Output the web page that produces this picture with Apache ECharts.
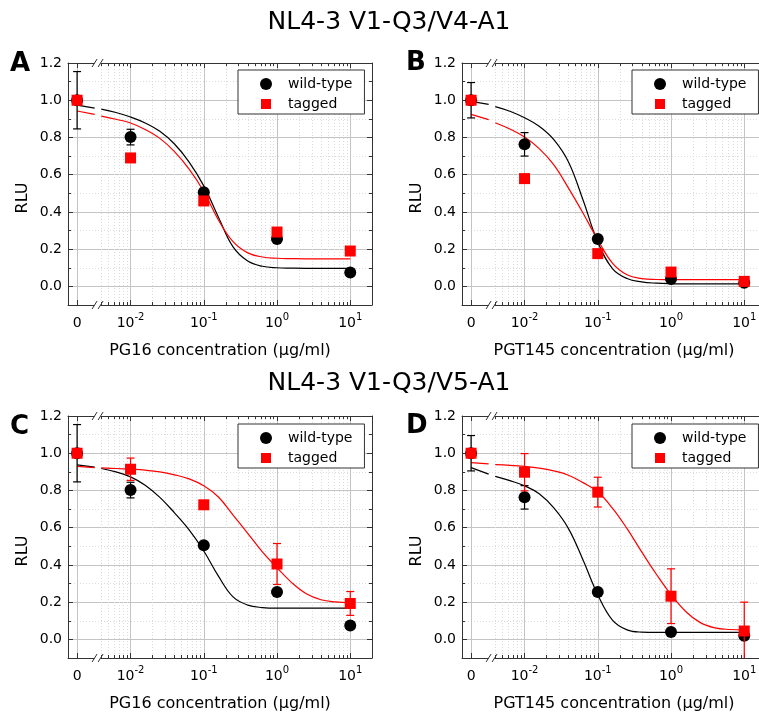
<!DOCTYPE html>
<html>
<head>
<meta charset="utf-8">
<script src="https://cdn.jsdelivr.net/npm/echarts@6/dist/echarts.min.js"></script>
<style>
  html, body { margin: 0; padding: 0; background: #ffffff; }
  #chart { width: 759px; height: 717px; }
</style>
</head>
<body>
<div id="chart"></div>
<script>
// ---- measured values -------------------------------------------------------
// antibody concentrations (µg/ml); 0 is the no-antibody control
const concentrations = [0, 0.01, 0.1, 1, 10];

// wild-type virus (same measurements shown in both constructs' panels)
const wtPG16      = [1.000, 0.802, 0.506, 0.255, 0.075];
const wtPG16Err   = [0.154, 0.042, 0, 0, 0];
const wtPGT145    = [1.000, 0.763, 0.254, 0.040, 0.020];
const wtPGT145Err = [0.095, 0.063, 0, 0, 0];

// tagged viruses
const tagV4PG16      = [1.000, 0.690, 0.459, 0.292, 0.190];
const tagV4PG16Err   = [0, 0, 0, 0, 0];
const tagV4PGT145    = [1.000, 0.579, 0.176, 0.077, 0.027];
const tagV4PGT145Err = [0, 0, 0, 0, 0];
const tagV5PG16      = [1.000, 0.914, 0.723, 0.405, 0.193];
const tagV5PG16Err   = [0, 0.060, 0, 0.110, 0.064];
const tagV5PGT145    = [1.000, 0.898, 0.791, 0.232, 0.045];
const tagV5PGT145Err = [0, 0.100, 0.080, 0.147, 0.155];

// dose-response fits
// *_0: fit value at zero antibody; *_brk: [log10(conc), RLU] where the fit meets the axis break
// main arrays: [log10(conc), RLU] along the log part of the axis
const fitWtV4PG16_0 = 0.974, fitWtV4PG16_brk = [-2.49, 0.958];
const fitWtV4PG16 = [[-2.4, 0.952], [-2.2, 0.934], [-2.0, 0.910], [-1.8, 0.878], [-1.6, 0.833],
  [-1.4, 0.765], [-1.2, 0.668], [-1.0, 0.540], [-0.8, 0.372], [-0.6, 0.212], [-0.4, 0.136],
  [-0.2, 0.108], [0.0, 0.100], [0.2, 0.098], [0.4, 0.097], [0.6, 0.097], [0.8, 0.097], [1.0, 0.097]];
const fitTagV4PG16_0 = 0.942, fitTagV4PG16_brk = [-2.49, 0.924];
const fitTagV4PG16 = [[-2.4, 0.915], [-2.2, 0.898], [-2.0, 0.878], [-1.8, 0.843], [-1.6, 0.795],
  [-1.4, 0.724], [-1.2, 0.630], [-1.0, 0.510], [-0.8, 0.357], [-0.6, 0.240], [-0.4, 0.180],
  [-0.2, 0.158], [0.0, 0.151], [0.2, 0.149], [0.4, 0.148], [0.6, 0.148], [0.8, 0.148], [1.0, 0.148]];

const fitWtV4PGT145_0 = 0.994, fitWtV4PGT145_brk = [-2.49, 0.978];
const fitWtV4PGT145 = [[-2.4, 0.966], [-2.2, 0.941], [-2.0, 0.906], [-1.8, 0.860], [-1.6, 0.788],
  [-1.4, 0.668], [-1.2, 0.463], [-1.0, 0.238], [-0.8, 0.096], [-0.6, 0.042], [-0.4, 0.024],
  [-0.2, 0.017], [0.0, 0.014], [0.2, 0.013], [0.4, 0.013], [0.6, 0.013], [0.8, 0.013], [1.0, 0.013]];
const fitTagV4PGT145_0 = 0.924, fitTagV4PGT145_brk = [-2.49, 0.896];
const fitTagV4PGT145 = [[-2.4, 0.879], [-2.2, 0.845], [-2.0, 0.802], [-1.8, 0.740], [-1.6, 0.653],
  [-1.4, 0.528], [-1.2, 0.393], [-1.0, 0.250], [-0.8, 0.125], [-0.6, 0.062], [-0.4, 0.042],
  [-0.2, 0.037], [0.0, 0.036], [0.2, 0.036], [0.4, 0.036], [0.6, 0.036], [0.8, 0.036], [1.0, 0.036]];

const fitWtV5PG16_0 = 0.9375, fitWtV5PG16_brk = [-2.49, 0.925];
const fitWtV5PG16 = [[-2.4, 0.918], [-2.2, 0.900], [-2.0, 0.873], [-1.8, 0.828], [-1.6, 0.763],
  [-1.4, 0.680], [-1.2, 0.588], [-1.0, 0.475], [-0.8, 0.340], [-0.6, 0.228], [-0.4, 0.184],
  [-0.2, 0.171], [0.0, 0.168], [0.2, 0.168], [0.4, 0.168], [0.6, 0.168], [0.8, 0.168], [1.0, 0.168]];
const fitTagV5PG16_0 = 0.929, fitTagV5PG16_brk = [-2.49, 0.923];
const fitTagV5PG16 = [[-2.4, 0.921], [-2.2, 0.918], [-2.0, 0.914], [-1.8, 0.909], [-1.6, 0.900],
  [-1.4, 0.884], [-1.2, 0.862], [-1.0, 0.825], [-0.8, 0.765], [-0.6, 0.668], [-0.4, 0.570],
  [-0.2, 0.470], [0.0, 0.385], [0.2, 0.305], [0.4, 0.245], [0.6, 0.213], [0.8, 0.201], [1.0, 0.196]];

const fitWtV5PGT145_0 = 0.923, fitWtV5PGT145_brk = [-2.49, 0.888];
const fitWtV5PGT145 = [[-2.4, 0.876], [-2.2, 0.853], [-2.0, 0.825], [-1.8, 0.782], [-1.6, 0.706],
  [-1.4, 0.595], [-1.2, 0.425], [-1.0, 0.240], [-0.8, 0.104], [-0.6, 0.051], [-0.4, 0.039],
  [-0.2, 0.0375], [0.0, 0.0375], [0.2, 0.0375], [0.4, 0.0375], [0.6, 0.0375], [0.8, 0.0375], [1.0, 0.0375]];
const fitTagV5PGT145_0 = 0.950, fitTagV5PGT145_brk = [-2.49, 0.943];
const fitTagV5PGT145 = [[-2.4, 0.939], [-2.2, 0.935], [-2.0, 0.929], [-1.8, 0.920], [-1.6, 0.905],
  [-1.4, 0.882], [-1.2, 0.842], [-1.0, 0.793], [-0.8, 0.705], [-0.6, 0.595], [-0.4, 0.470],
  [-0.2, 0.350], [0.0, 0.240], [0.2, 0.150], [0.4, 0.090], [0.6, 0.062], [0.8, 0.053], [1.0, 0.050]];

// axis ticks
const yMajorTicks = [0, 0.2, 0.4, 0.6, 0.8, 1.0, 1.2];
const yMinorTicks = [0.1, 0.3, 0.5, 0.7, 0.9, 1.1];
const xDecades = [-2, -1, 0, 1];

// ---- axis layout --------------------------------------------------------------
// The x axis is log10(concentration); the zero control sits in its own slot left of the break.
const X_MIN = -2.854, X_MAX = 1.297;
const ZERO_SLOT = -2.73;
const BREAK_AT = -2.45;
const Y_MIN = -0.1, Y_MAX = 1.2;
const FONT = '"DejaVu Sans", sans-serif';
const AXIS_COLOR = '#333333';
const BLACK = '#000000', RED = '#ff0000';

const xPos = c => (c === 0 ? ZERO_SLOT : Math.log10(c));
const xMajor = [ZERO_SLOT].concat(xDecades);
const xMinor = [];
for (let d = -3; d <= 1; d++) {
  for (let k = 2; k <= 9; k++) {
    const v = d + Math.log10(k);
    if (v > BREAK_AT && v < X_MAX) xMinor.push(v);
  }
}

const panels = [
  { letter: 'A', left: 68, top: 63, letterX: 10, letterY: 64,
    xTitle: 'PG16 concentration (μg/ml)', legendLeft: 238, legendTop: 70,
    wt: wtPG16, wtErr: wtPG16Err, tag: tagV4PG16, tagErr: tagV4PG16Err,
    wtFit: [fitWtV4PG16_0, fitWtV4PG16_brk, fitWtV4PG16],
    tagFit: [fitTagV4PG16_0, fitTagV4PG16_brk, fitTagV4PG16] },
  { letter: 'B', left: 462, top: 63, letterX: 406, letterY: 63,
    xTitle: 'PGT145 concentration (μg/ml)', legendLeft: 632, legendTop: 70,
    wt: wtPGT145, wtErr: wtPGT145Err, tag: tagV4PGT145, tagErr: tagV4PGT145Err,
    wtFit: [fitWtV4PGT145_0, fitWtV4PGT145_brk, fitWtV4PGT145],
    tagFit: [fitTagV4PGT145_0, fitTagV4PGT145_brk, fitTagV4PGT145] },
  { letter: 'C', left: 68, top: 416, letterX: 10, letterY: 427,
    xTitle: 'PG16 concentration (μg/ml)', legendLeft: 238, legendTop: 424,
    wt: wtPG16, wtErr: wtPG16Err, tag: tagV5PG16, tagErr: tagV5PG16Err,
    wtFit: [fitWtV5PG16_0, fitWtV5PG16_brk, fitWtV5PG16],
    tagFit: [fitTagV5PG16_0, fitTagV5PG16_brk, fitTagV5PG16] },
  { letter: 'D', left: 462, top: 416, letterX: 406, letterY: 426,
    xTitle: 'PGT145 concentration (μg/ml)', legendLeft: 632, legendTop: 424,
    wt: wtPGT145, wtErr: wtPGT145Err, tag: tagV5PGT145, tagErr: tagV5PGT145Err,
    wtFit: [fitWtV5PGT145_0, fitWtV5PGT145_brk, fitWtV5PGT145],
    tagFit: [fitTagV5PGT145_0, fitTagV5PGT145_brk, fitTagV5PGT145] }
];
const PLOT_W = 304, PLOT_H = 242;

// ---- helpers --------------------------------------------------------------------
function xLabel(v) {
  if (Math.abs(v - ZERO_SLOT) < 1e-6) return '{b|0}';
  return '{b|10}{sup|' + Math.round(v) + '}';
}

function errRenderer(color) {
  return function (params, api) {
    const x = api.value(0), y = api.value(1), e = api.value(2);
    const p1 = api.coord([x, y + e]);
    const p2 = api.coord([x, y - e]);
    const style = { stroke: color, lineWidth: 1.2 };
    return {
      type: 'group',
      children: [
        { type: 'line', shape: { x1: p1[0], y1: p1[1], x2: p2[0], y2: p2[1] }, style },
        { type: 'line', shape: { x1: p1[0] - 4, y1: p1[1], x2: p1[0] + 4, y2: p1[1] }, style },
        { type: 'line', shape: { x1: p2[0] - 4, y1: p2[1], x2: p2[0] + 4, y2: p2[1] }, style }
      ]
    };
  };
}

// "//" marks where the linear zero slot meets the log scale
function breakRenderer(params, api) {
  const x = api.value(0);
  const ends = [api.coord([x, Y_MIN]), api.coord([x, Y_MAX])];
  const children = [];
  ends.forEach(p => {
    children.push({ type: 'rect', shape: { x: p[0] - 3, y: p[1] - 1.5, width: 6, height: 3 },
      style: { fill: '#ffffff' } });
    [-3, 3].forEach(dx => children.push({
      type: 'line',
      shape: { x1: p[0] + dx - 2.5, y1: p[1] + 4, x2: p[0] + dx + 2.5, y2: p[1] - 4 },
      style: { stroke: AXIS_COLOR, lineWidth: 1 }
    }));
  });
  return { type: 'group', children };
}

const grids = [], xAxes = [], yAxes = [], series = [], legends = [], graphics = [];

panels.forEach((p, i) => {
  grids.push({ left: p.left, top: p.top, width: PLOT_W, height: PLOT_H,
    containLabel: false, outerBoundsMode: 'none' });

  const tickStyle = { color: AXIS_COLOR, width: 1 };
  const baseX = { gridIndex: i, type: 'value', min: X_MIN, max: X_MAX, silent: true };
  const baseY = { gridIndex: i, type: 'value', min: Y_MIN, max: Y_MAX, silent: true };

  // x: bottom major (labels + grid), bottom minor, top major, top minor
  xAxes.push(Object.assign({}, baseX, {
    position: 'bottom',
    axisLine: { show: true, onZero: false, lineStyle: { color: AXIS_COLOR, width: 1 } },
    axisTick: { show: true, inside: true, length: 5, customValues: xMajor, lineStyle: tickStyle },
    axisLabel: { show: true, customValues: xMajor, margin: 7, formatter: xLabel,
      color: '#000', fontFamily: FONT, fontSize: 14,
      rich: {
        b: { fontFamily: FONT, fontSize: 14, lineHeight: 18, verticalAlign: 'bottom', color: '#000' },
        sup: { fontFamily: FONT, fontSize: 10, lineHeight: 10, verticalAlign: 'top', color: '#000' }
      } },
    splitLine: { show: true, lineStyle: { color: '#c4c4c4', width: 1 } }
  }));
  xAxes.push(Object.assign({}, baseX, {
    position: 'bottom',
    axisLine: { show: false, onZero: false },
    axisTick: { show: true, inside: true, length: 3, customValues: xMinor, lineStyle: tickStyle },
    axisLabel: { show: false },
    splitLine: { show: true, lineStyle: { color: '#dcdcdc', width: 1, type: [1, 2] } }
  }));
  xAxes.push(Object.assign({}, baseX, {
    position: 'top',
    axisLine: { show: true, onZero: false, lineStyle: { color: AXIS_COLOR, width: 1 } },
    axisTick: { show: true, inside: true, length: 5, customValues: xMajor, lineStyle: tickStyle },
    axisLabel: { show: false }, splitLine: { show: false }
  }));
  xAxes.push(Object.assign({}, baseX, {
    position: 'top',
    axisLine: { show: false, onZero: false },
    axisTick: { show: true, inside: true, length: 3, customValues: xMinor, lineStyle: tickStyle },
    axisLabel: { show: false }, splitLine: { show: false }
  }));

  // y: left major (labels + grid), left minor, right major, right minor
  yAxes.push(Object.assign({}, baseY, {
    position: 'left',
    axisLine: { show: true, onZero: false, lineStyle: { color: AXIS_COLOR, width: 1 } },
    axisTick: { show: true, inside: true, length: 5, customValues: yMajorTicks, lineStyle: tickStyle },
    axisLabel: { show: true, customValues: yMajorTicks, margin: 6, color: '#000',
      fontFamily: FONT, fontSize: 14, formatter: v => v.toFixed(1) },
    splitLine: { show: true, lineStyle: { color: '#c4c4c4', width: 1 } }
  }));
  yAxes.push(Object.assign({}, baseY, {
    position: 'left',
    axisLine: { show: false, onZero: false },
    axisTick: { show: true, inside: true, length: 3, customValues: yMinorTicks, lineStyle: tickStyle },
    axisLabel: { show: false },
    splitLine: { show: true, lineStyle: { color: '#dcdcdc', width: 1, type: [1, 2] } }
  }));
  yAxes.push(Object.assign({}, baseY, {
    position: 'right',
    axisLine: { show: true, onZero: false, lineStyle: { color: AXIS_COLOR, width: 1 } },
    axisTick: { show: true, inside: true, length: 5, customValues: yMajorTicks, lineStyle: tickStyle },
    axisLabel: { show: false }, splitLine: { show: false }
  }));
  yAxes.push(Object.assign({}, baseY, {
    position: 'right',
    axisLine: { show: false, onZero: false },
    axisTick: { show: true, inside: true, length: 3, customValues: yMinorTicks, lineStyle: tickStyle },
    axisLabel: { show: false }, splitLine: { show: false }
  }));

  const ax = { xAxisIndex: 4 * i, yAxisIndex: 4 * i };

  // fitted curves: short piece in the zero slot, then the log-scale part
  [[p.wtFit, BLACK, 'wild-type fit'], [p.tagFit, RED, 'tagged fit']].forEach(f => {
    const [[v0, brk, pts], color, name] = f;
    const lineBase = Object.assign({}, ax, {
      type: 'line', name, showSymbol: false, symbol: 'none', silent: true, clip: true,
      lineStyle: { color, width: 1.2 }, z: 2
    });
    series.push(Object.assign({}, lineBase, { data: [[ZERO_SLOT, v0], brk] }));
    series.push(Object.assign({}, lineBase, { data: pts, smooth: 0.4 }));
  });

  // error bars and markers: wild-type first, tagged on top
  const errData = (vals, errs) => concentrations
    .map((c, k) => [xPos(c), vals[k], errs[k]])
    .filter(d => d[2] > 0);

  series.push(Object.assign({}, ax, { type: 'custom', name: 'wild-type error', silent: true, clip: true,
    renderItem: errRenderer(BLACK), data: errData(p.wt, p.wtErr), z: 3 }));
  series.push(Object.assign({}, ax, { type: 'scatter', name: 'wild-type', symbol: 'circle', symbolSize: 12,
    itemStyle: { color: BLACK, opacity: 1 }, silent: true, z: 4,
    data: concentrations.map((c, k) => [xPos(c), p.wt[k]]) }));
  series.push(Object.assign({}, ax, { type: 'custom', name: 'tagged error', silent: true, clip: true,
    renderItem: errRenderer(RED), data: errData(p.tag, p.tagErr), z: 5 }));
  series.push(Object.assign({}, ax, { type: 'scatter', name: 'tagged', symbol: 'rect', symbolSize: 11,
    itemStyle: { color: RED, opacity: 1 }, silent: true, z: 6,
    data: concentrations.map((c, k) => [xPos(c), p.tag[k]]) }));

  series.push(Object.assign({}, ax, { type: 'custom', name: 'axis break', silent: true, clip: false,
    renderItem: breakRenderer, data: [[BREAK_AT, 0]], z: 10 }));

  legends.push({
    orient: 'vertical', left: p.legendLeft, top: p.legendTop,
    itemWidth: 34, itemHeight: 12, itemGap: 6,
    padding: [7, 12, 3, 22],
    backgroundColor: '#ffffff', borderColor: AXIS_COLOR, borderWidth: 1, borderRadius: 0,
    selectedMode: false,
    textStyle: { fontFamily: FONT, fontSize: 14, color: '#000' },
    itemStyle: { opacity: 1 },
    data: [
      { name: 'wild-type', icon: 'circle' },
      { name: 'tagged', icon: 'path://M0,0M12,12M1,1L11,1L11,11L1,11Z' }
    ]
  });

  const cx = p.left + PLOT_W / 2;
  graphics.push({ type: 'text', x: p.letterX, y: p.letterY, silent: true,
    style: { text: p.letter, font: 'bold 26px ' + FONT, fill: '#000', align: 'left', verticalAlign: 'middle' } });
  graphics.push({ type: 'text', x: p.left - 45, y: p.top + 135, rotation: Math.PI / 2, silent: true,
    style: { text: 'RLU', font: '16px ' + FONT, fill: '#000', align: 'center', verticalAlign: 'middle' } });
  graphics.push({ type: 'text', x: cx, y: p.top + 288, silent: true,
    style: { text: p.xTitle, font: '16px ' + FONT, fill: '#000', align: 'center', verticalAlign: 'middle' } });
});

graphics.push({ type: 'text', x: 389, y: 22, silent: true,
  style: { text: 'NL4-3 V1-Q3/V4-A1', font: '25px ' + FONT, fill: '#000', align: 'center', verticalAlign: 'middle' } });
graphics.push({ type: 'text', x: 389, y: 383, silent: true,
  style: { text: 'NL4-3 V1-Q3/V5-A1', font: '25px ' + FONT, fill: '#000', align: 'center', verticalAlign: 'middle' } });

const chart = echarts.init(document.getElementById('chart'), null, { renderer: 'canvas' });
chart.setOption({
  animation: false,
  backgroundColor: '#ffffff',
  grid: grids,
  xAxis: xAxes,
  yAxis: yAxes,
  legend: legends,
  series: series,
  graphic: graphics
});
</script>
</body>
</html>
